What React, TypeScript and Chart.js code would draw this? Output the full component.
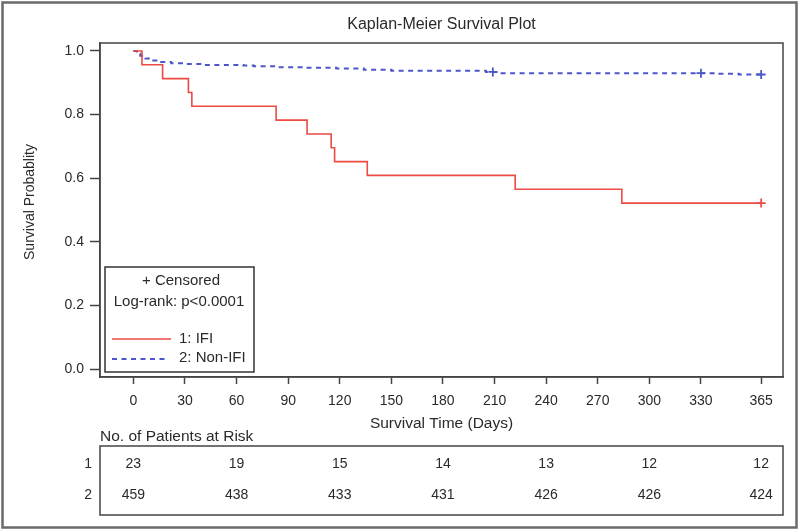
import React, { useEffect, useRef } from "react";
import { Chart, registerables } from "chart.js";

Chart.register(...registerables);

const TITLE = "Kaplan-Meier Survival Plot";
const X_TITLE = "Survival Time (Days)";
const Y_TITLE = "Survival Probablity";
const CENSOR_LABEL = "+ Censored";
const LOGRANK_LABEL = "Log-rank: p<0.0001";
const RISK_TITLE = "No. of Patients at Risk";
const groupLabels = ["1: IFI", "2: Non-IFI"];
const riskRowLabels = ["1", "2"];

const xTickValues = [0, 30, 60, 90, 120, 150, 180, 210, 240, 270, 300, 330, 365];
const yTickValues = [0, 0.2, 0.4, 0.6, 0.8, 1.0];

const ifiTimes = [0, 5, 17, 32, 34, 83, 101, 115, 117, 136, 222, 284, 365];
const ifiSurv = [1, 0.9565, 0.913, 0.8696, 0.8261, 0.7826, 0.7391, 0.6957, 0.6522, 0.6087, 0.5652, 0.5217, 0.5217];
const ifiCensorTimes = [365];
const ifiCensorSurv = [0.5217];

const nonIfiTimes = [0, 2, 4, 7, 11, 15, 22, 30, 40, 64, 70, 84, 100, 118, 134, 150, 205, 213, 340, 352, 365];
const nonIfiSurv = [1, 0.991, 0.985, 0.976, 0.97, 0.965, 0.961, 0.959, 0.956, 0.954, 0.952, 0.949, 0.947, 0.945, 0.941, 0.938, 0.934, 0.93, 0.928, 0.926, 0.926];
const nonIfiCensorTimes = [209, 330, 365];
const nonIfiCensorSurv = [0.934, 0.93, 0.926];

const riskTimes = [0, 60, 120, 180, 240, 300, 365];
const riskIfi = [23, 19, 15, 14, 13, 12, 12];
const riskNonIfi = [459, 438, 433, 431, 426, 426, 424];

const RED = "#ec4a43";
const BLUE = "#4b57c8";
const FONT = "'Liberation Sans', Arial, sans-serif";
const TEXT = "#2a2a2a";
const FRAME = "#444";

const toPoints = (xs: number[], ys: number[]) => xs.map((x, i) => ({ x, y: ys[i] }));

const decorPlugin = {
  id: "decor",
  afterDraw(chart: any) {
    const ctx = chart.ctx as CanvasRenderingContext2D;
    const area = chart.chartArea;
    const xs = chart.scales.x;
    ctx.save();

    // outer frame
    ctx.strokeStyle = "#6a6a6a";
    ctx.lineWidth = 2.5;
    ctx.strokeRect(2.5, 2.5, 794, 525);

    // plot frame
    ctx.strokeStyle = FRAME;
    ctx.lineWidth = 1.5;
    ctx.strokeRect(area.left, area.top, area.right - area.left, area.bottom - area.top);

    // title
    ctx.fillStyle = TEXT;
    ctx.font = `16px ${FONT}`;
    ctx.textAlign = "center";
    ctx.textBaseline = "middle";
    ctx.fillText(TITLE, (area.left + area.right) / 2, 25);

    // y axis title
    ctx.save();
    ctx.translate(30, 202);
    ctx.rotate(-Math.PI / 2);
    ctx.font = `14px ${FONT}`;
    ctx.fillText(Y_TITLE, 0, 0);
    ctx.restore();

    // legend box
    const lx = area.left + 5;
    const lb = area.bottom - 5;
    const lw = 149;
    const lh = 105;
    const ly = lb - lh;
    ctx.strokeStyle = "#333";
    ctx.lineWidth = 1.5;
    ctx.strokeRect(lx, ly, lw, lh);
    ctx.font = `15px ${FONT}`;
    ctx.fillStyle = TEXT;
    ctx.textAlign = "center";
    ctx.fillText(CENSOR_LABEL, lx + 76, ly + 14);
    ctx.fillText(LOGRANK_LABEL, lx + 74, ly + 35);
    ctx.textAlign = "left";
    // IFI
    ctx.strokeStyle = RED;
    ctx.lineWidth = 1.6;
    ctx.setLineDash([]);
    ctx.beginPath();
    ctx.moveTo(lx + 7, ly + 72);
    ctx.lineTo(lx + 66, ly + 72);
    ctx.stroke();
    ctx.fillText(groupLabels[0], lx + 74, ly + 72);
    // Non-IFI
    ctx.strokeStyle = BLUE;
    ctx.lineWidth = 2;
    ctx.setLineDash([5, 4.5]);
    ctx.beginPath();
    ctx.moveTo(lx + 7, ly + 92);
    ctx.lineTo(lx + 64, ly + 92);
    ctx.stroke();
    ctx.setLineDash([]);
    ctx.fillText(groupLabels[1], lx + 74, ly + 91);

    // risk table
    ctx.font = `15.5px ${FONT}`;
    ctx.fillStyle = TEXT;
    ctx.textAlign = "left";
    ctx.fillText(RISK_TITLE, area.left, 437);
    ctx.strokeStyle = FRAME;
    ctx.lineWidth = 1.5;
    ctx.strokeRect(area.left, 446, area.right - area.left, 69);
    const rowY = [464, 495];
    ctx.font = `14px ${FONT}`;
    ctx.textAlign = "right";
    riskRowLabels.forEach((l, i) => ctx.fillText(l, area.left - 8, rowY[i]));
    ctx.textAlign = "center";
    riskTimes.forEach((t, i) => {
      const px = xs.getPixelForValue(t);
      ctx.fillText(String(riskIfi[i]), px, rowY[0]);
      ctx.fillText(String(riskNonIfi[i]), px, rowY[1]);
    });

    ctx.restore();
  },
};

export default function App() {
  const ref = useRef<HTMLCanvasElement | null>(null);

  useEffect(() => {
    if (!ref.current) return;
    const tickFont = { family: FONT, size: 14 };
    const chart = new Chart(ref.current, {
      type: "line",
      data: {
        datasets: [
          {
            label: groupLabels[0],
            data: toPoints(ifiTimes, ifiSurv),
            borderColor: RED,
            borderWidth: 1.6,
            stepped: "before",
            pointRadius: 0,
            fill: false,
          },
          {
            label: groupLabels[1],
            data: toPoints(nonIfiTimes, nonIfiSurv),
            borderColor: BLUE,
            borderWidth: 2,
            borderDash: [5, 4.5],
            stepped: "before",
            pointRadius: 0,
            fill: false,
          },
          {
            label: "IFI censored",
            data: toPoints(ifiCensorTimes, ifiCensorSurv),
            showLine: false,
            pointStyle: "cross",
            pointRadius: 4.5,
            borderColor: RED,
            borderWidth: 1.8,
          },
          {
            label: "Non-IFI censored",
            data: toPoints(nonIfiCensorTimes, nonIfiCensorSurv),
            showLine: false,
            pointStyle: "cross",
            pointRadius: 4.5,
            borderColor: BLUE,
            borderWidth: 1.8,
          },
        ],
      },
      options: {
        responsive: false,
        animation: false,
        devicePixelRatio: 1,
        layout: { padding: { left: 20, top: 43, right: 17, bottom: 98 } },
        plugins: {
          legend: { display: false },
          title: { display: false },
          tooltip: { enabled: false },
        },
        scales: {
          x: {
            type: "linear",
            min: -19.4,
            max: 377.7,
            afterBuildTicks: (s: any) => {
              s.ticks = xTickValues.map((v) => ({ value: v }));
            },
            afterFit: (s: any) => {
              s.height = 56;
            },
            grid: { drawOnChartArea: false, drawTicks: true, tickLength: 7, tickColor: FRAME, tickWidth: 1.5 },
            border: { display: true, color: FRAME, width: 1.5 },
            ticks: { padding: 9, color: TEXT, font: tickFont, autoSkip: false, maxRotation: 0, callback: (v: any) => String(v) },
            title: { display: true, text: X_TITLE, padding: 0, color: TEXT, font: { family: FONT, size: 15.5 } },
          },
          y: {
            type: "linear",
            min: -0.025,
            max: 1.025,
            afterBuildTicks: (s: any) => {
              s.ticks = yTickValues.map((v) => ({ value: v }));
            },
            afterFit: (s: any) => {
              s.width = 80;
            },
            grid: { drawOnChartArea: false, drawTicks: true, tickLength: 10, tickColor: FRAME, tickWidth: 1.5 },
            border: { display: true, color: FRAME, width: 1.5 },
            ticks: { padding: 6, color: TEXT, font: tickFont, callback: (v: any) => Number(v).toFixed(1) },
            title: { display: false },
          },
        },
      },
      plugins: [decorPlugin],
    } as any);
    return () => chart.destroy();
  }, []);

  return (
    <div style={{ position: "fixed", left: 0, top: 0, width: 800, height: 531, background: "#fff" }}>
      <canvas ref={ref} width={800} height={531} style={{ display: "block", width: 800, height: 531 }} />
    </div>
  );
}
